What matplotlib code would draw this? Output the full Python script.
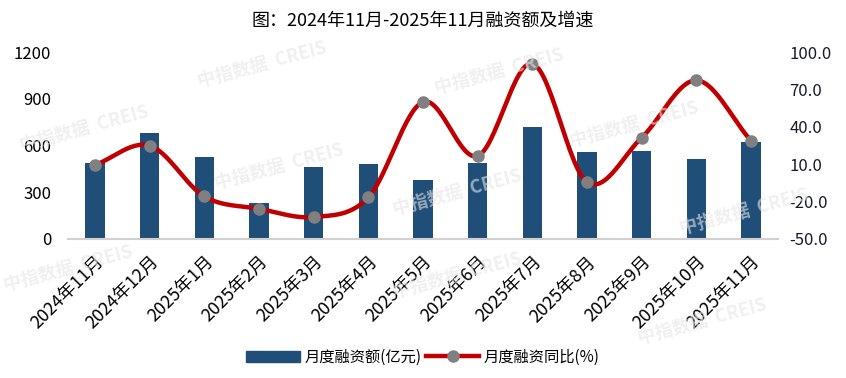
import numpy as np
import matplotlib.pyplot as plt
from matplotlib.lines import Line2D
from matplotlib.patches import Patch

plt.rcParams['font.family'] = ['Noto Sans CJK SC', 'DejaVu Sans']

months = ['2024年11月', '2024年12月', '2025年1月', '2025年2月', '2025年3月', '2025年4月',
          '2025年5月', '2025年6月', '2025年7月', '2025年8月', '2025年9月', '2025年10月', '2025年11月']
amount = [485, 678, 525, 230, 461, 480, 378, 485, 717, 557, 565, 514, 621]
yoy = [9.4, 24.9, -15.9, -25.8, -32.4, -16.7, 60.0, 16.6, 90.8, -4.4, 31.3, 77.4, 28.9]


def catmull_rom(x, y, n=30):
    # smooth curve through the points, like Excel's smoothed line
    x = np.asarray(x, float)
    y = np.asarray(y, float)
    px = np.concatenate([[2 * x[0] - x[1]], x, [2 * x[-1] - x[-2]]])
    py = np.concatenate([[2 * y[0] - y[1]], y, [2 * y[-1] - y[-2]]])
    xs, ys = [], []
    t = np.linspace(0, 1, n)
    for i in range(1, len(px) - 2):
        for p, out in ((px, xs), (py, ys)):
            p0, p1, p2, p3 = p[i - 1], p[i], p[i + 1], p[i + 2]
            out.extend(0.5 * (2 * p1 + (-p0 + p2) * t + (2 * p0 - 5 * p1 + 4 * p2 - p3) * t ** 2
                              + (-p0 + 3 * p1 - 3 * p2 + p3) * t ** 3))
    return np.array(xs), np.array(ys)


fig = plt.figure(figsize=(8.46, 3.78), dpi=100)
ax = fig.add_axes([0.080, 0.368, 0.840, 0.494])
ax2 = ax.twinx()

x = np.arange(len(months))
bar_color = '#1F4E79'
line_color = '#C00000'

ax.bar(x, amount, width=0.35, color=bar_color, zorder=2)
ax.set_ylim(0, 1200)
ax.set_yticks(range(0, 1201, 300))
ax.set_xlim(-0.5, len(months) - 0.5)
ax.set_xticks(x)
ax.set_xticklabels(months, rotation=45, ha='right', rotation_mode='anchor')

sx, sy = catmull_rom(x, yoy)
ax2.plot(sx, sy, color=line_color, lw=3.2, zorder=3, solid_capstyle='round')
ax2.plot(x, yoy, 'o', color='#808080', ms=8, zorder=4)
ax2.set_ylim(-50, 100)
ax2.set_yticks(np.arange(-50, 101, 30))
ax2.set_yticklabels([f'{v:.1f}' for v in np.arange(-50, 101, 30)])

for a in (ax, ax2):
    for s in a.spines.values():
        s.set_visible(False)
    a.tick_params(length=0, labelsize=12)
ax.spines['bottom'].set_visible(True)
ax.spines['bottom'].set_color('#D0D0D0')
ax.spines['bottom'].set_linewidth(1.5)
ax.tick_params(axis='y', pad=12)
ax2.tick_params(axis='y', pad=8, labelcolor='#1a1a2e')
ax.tick_params(axis='x', pad=10, labelsize=12.8)

fig.text(0.5, 0.945, '图：2024年11月-2025年11月融资额及增速', ha='center', va='center', fontsize=13)

handles = [Patch(color=bar_color),
           Line2D([0], [0], color=line_color, lw=3.2, marker='o', mfc='#808080', mec='#808080', ms=8)]
fig.legend(handles, ['月度融资额(亿元)', '月度融资同比(%)'], loc='center', bbox_to_anchor=(0.5, 0.055),
           ncol=2, frameon=False, fontsize=11, handlelength=3.5, handletextpad=0.3, columnspacing=0.3)

# watermarks
marks = [(0.31, 0.83), (0.59, 0.81), (0.10, 0.66), (0.33, 0.56), (0.75, 0.67), (0.54, 0.49),
         (0.08, 0.29), (0.54, 0.27), (0.83, 0.15), (0.88, 0.44)]
for mx, my in marks:
    fig.text(mx, my, '中指数据  CREIS', color='#E6E6E6', fontsize=13, fontweight='bold',
             rotation=15, ha='center', va='center', alpha=0.6, zorder=0)

fig.savefig('out.png', dpi=100)
